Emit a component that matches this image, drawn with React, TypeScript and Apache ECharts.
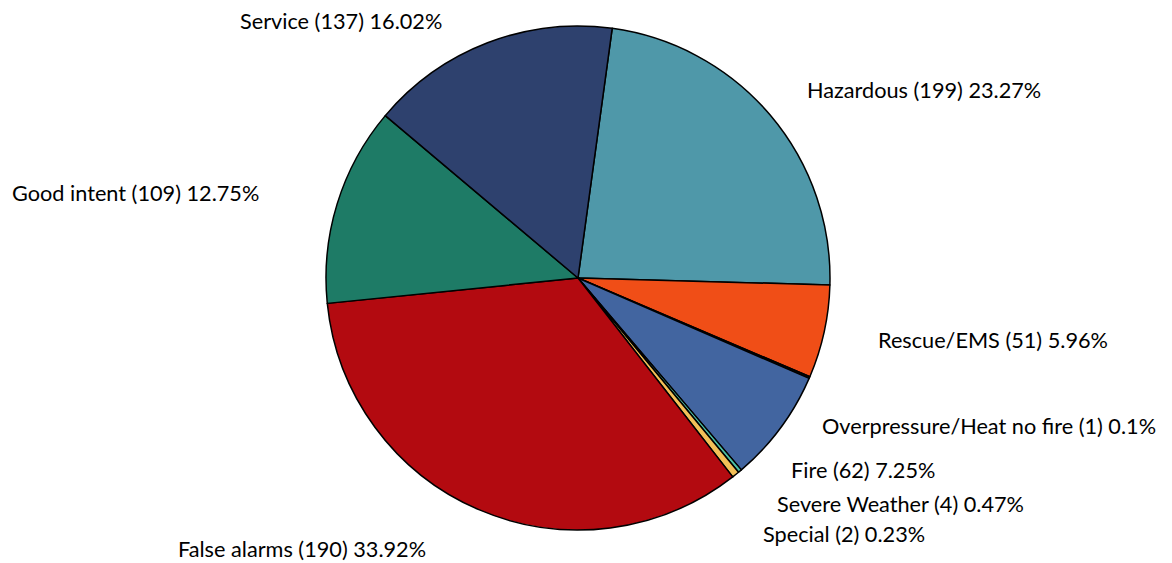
import React, { useEffect, useRef } from "react";
import * as echarts from "echarts";

const categories = [
  "Hazardous",
  "Rescue/EMS",
  "Overpressure/Heat no fire",
  "Fire",
  "Special",
  "Severe Weather",
  "False alarms",
  "Good intent",
  "Service",
];
// slice sizes (share of 855 incidents)
const values = [199, 51, 1, 62, 2, 4, 290, 109, 137];
// counts and percentages as printed on the labels
const labelCounts = [199, 51, 1, 62, 2, 4, 190, 109, 137];
const labelPercents = ["23.27%", "5.96%", "0.1%", "7.25%", "0.23%", "0.47%", "33.92%", "12.75%", "16.02%"];

const colors = ["#4F98A9", "#F04E17", "#1a1a1a", "#4265A0", "#4CC0A6", "#F3C058", "#B30A10", "#1E7B66", "#2E416E"];
// label anchor (left x, middle y)
const labelPos: [number, number][] = [
  [807, 90],
  [878, 340],
  [822, 426],
  [791, 470],
  [763, 534],
  [777, 504],
  [178, 549],
  [12, 193],
  [240, 21],
];

export default function App() {
  const ref = useRef<HTMLDivElement>(null);
  useEffect(() => {
    document.body.style.margin = "0";
    const chart = echarts.init(ref.current!, undefined, { renderer: "svg" });
    chart.setOption({
      animation: false,
      backgroundColor: "#ffffff",
      series: [
        {
          type: "pie",
          center: [578, 278],
          radius: 252,
          startAngle: 82.2,
          clockwise: true,
          avoidLabelOverlap: false,
          itemStyle: { borderColor: "#000", borderWidth: 1.5 },
          label: {
            show: true,
            position: "outside",
            fontFamily: "Lato",
            fontSize: 21.7,
            lineHeight: 24,
            color: "#000",
            formatter: (p: any) =>
              `${categories[p.dataIndex]} (${labelCounts[p.dataIndex]}) ${labelPercents[p.dataIndex]}`,
          },
          labelLine: { show: false },
          labelLayout: (p: any) => ({
            x: labelPos[p.dataIndex][0],
            y: labelPos[p.dataIndex][1],
            align: "left",
            verticalAlign: "middle",
          }),
          emphasis: { disabled: true },
          data: categories.map((c, i) => ({
            name: c,
            value: values[i],
            itemStyle: { color: colors[i] },
          })),
        },
      ],
    });
    return () => chart.dispose();
  }, []);
  return <div ref={ref} style={{ width: 1172, height: 563 }} />;
}
